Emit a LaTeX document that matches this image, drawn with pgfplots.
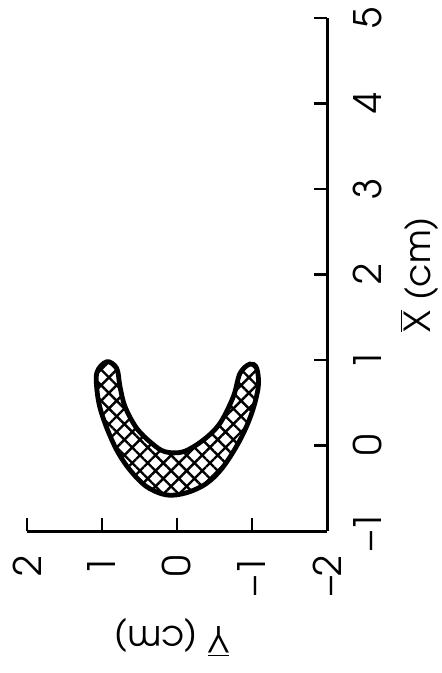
\documentclass[border=0pt]{standalone}
\usepackage{graphicx}
\usepackage{fontspec}
\setmainfont{TeX Gyre Adventor}
\usepackage{pgfplots}
\pgfplotsset{compat=1.18}
\usetikzlibrary{patterns.meta}

\begin{document}
\rotatebox{90}{%
\begin{tikzpicture}
\begin{axis}[
  scale only axis, width=256.5bp, height=150bp,
  xmin=-1, xmax=5, ymin=-2, ymax=2,
  axis x line*=bottom, axis y line*=left,
  axis line style={-, line width=1.5bp, black},
  tick align=inside, major tick length=6.5bp,
  tick style={line width=1.1bp, black},
  xtick={-1,0,1,2,3,4,5}, ytick={-2,-1,0,1,2},
  xticklabels={\textendash1,0,1,2,3,4,5},
  yticklabels={\textendash2,\textendash1,0,1,2},
  tick label style={font=\fontsize{19}{22}\selectfont},
  xticklabel style={anchor=north, inner sep=0pt, yshift=-13bp},
  yticklabel style={anchor=east, inner sep=0pt, xshift=-12bp},
  xlabel={$\overline{\hbox{X}}$ (cm)},
  ylabel={$\overline{\hbox{Y}}$ (cm)},
  label style={font=\fontsize{18}{21}\selectfont},
  xlabel style={at={(axis description cs:0.5,-0.307)}, anchor=center},
  ylabel style={at={(axis description cs:-0.208,0.517)}, anchor=center},
]
% outline of the crescent (X, Y in cm)
\addplot[draw=black, line width=2.4bp, smooth cycle, tension=0.55,
  pattern={Hatch[angle=45, distance=5.5bp, line width=1.2bp]}, pattern color=black]
  coordinates {
  (0.98,0.937) (0.844,1.071) (0.532,1.049) (0.26,0.96) (-0.053,0.804)
  (-0.287,0.627) (-0.482,0.404) (-0.579,0.137) (-0.552,-0.129) (-0.442,-0.396)
  (-0.248,-0.617) (0.064,-0.84) (0.377,-0.996) (0.688,-1.084) (0.903,-1.063)
  (0.953,-0.973) (0.844,-0.84) (0.571,-0.751) (0.26,-0.573) (0.064,-0.351)
  (-0.073,-0.084) (-0.073,0.16) (0.026,0.337) (0.201,0.537) (0.454,0.693)
  (0.688,0.76) (0.903,0.804)
  };
\end{axis}
\pgfresetboundingbox
\path (current axis.south west) ++(-71bp,-57.5bp) rectangle ++(336.5bp,221bp);
\end{tikzpicture}%
}
\end{document}
